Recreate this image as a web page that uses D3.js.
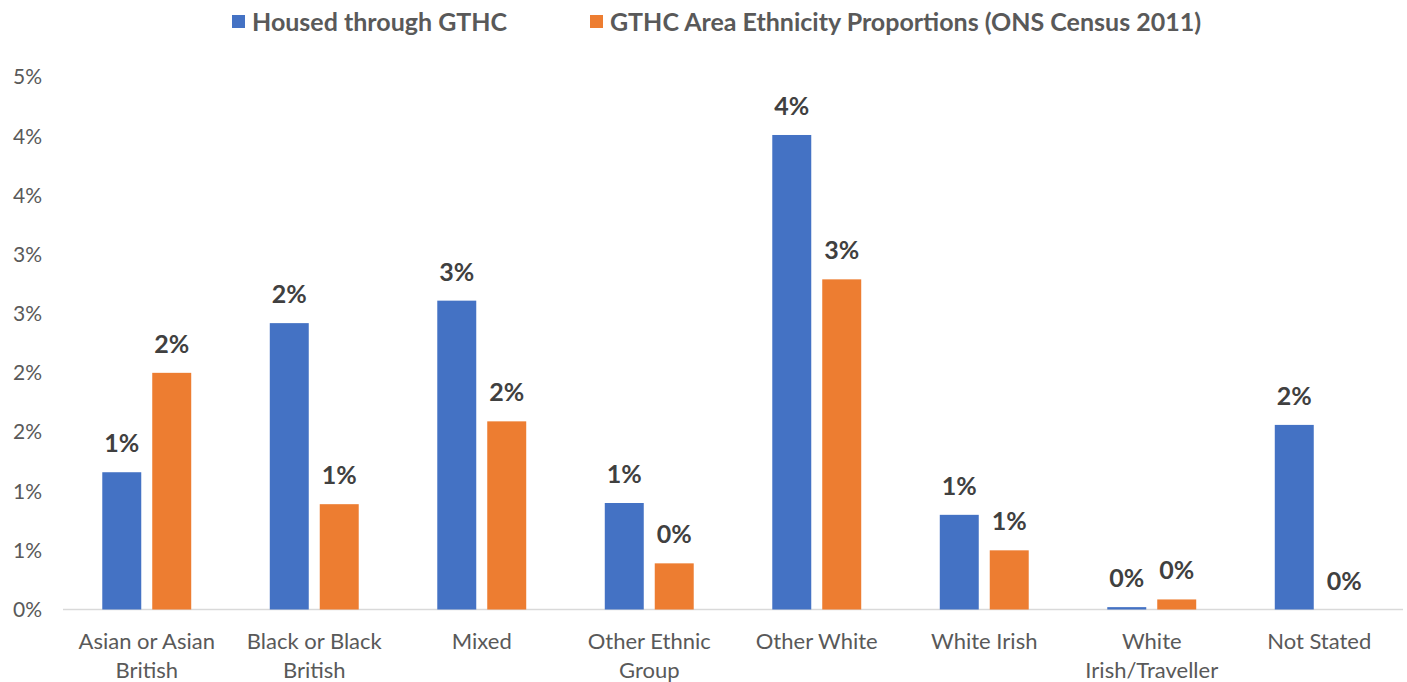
<!DOCTYPE html>
<html>
<head>
<meta charset="utf-8">
<script src="https://cdn.jsdelivr.net/npm/d3@7"></script>
<style>
  body { margin: 0; background: #fff; }
  text { font-family: Lato, 'Open Sans', sans-serif; }
</style>
</head>
<body>
<div id="chart"></div>
<script>
// categories, with "\n" where the axis label wraps
const categories = [
  'Asian or Asian\nBritish',
  'Black or Black\nBritish',
  'Mixed',
  'Other Ethnic\nGroup',
  'Other White',
  'White Irish',
  'White\nIrish/Traveller',
  'Not Stated'
];
// percent values
const housed = [1.16, 2.42, 2.61, 0.90, 4.01, 0.80, 0.02, 1.56];
const census = [2.00, 0.89, 1.59, 0.39, 2.79, 0.50, 0.085, 0];
const seriesNames = ['Housed through GTHC', 'GTHC Area Ethnicity Proportions (ONS Census 2011)'];
const seriesColors = ['#4472C4', '#ED7D31'];
const yTicks = [0, 0.5, 1, 1.5, 2, 2.5, 3, 3.5, 4, 4.5];

const width = 1407, height = 682;
const margin = { top: 77, right: 4, bottom: 72, left: 63 };

const svg = d3.select('#chart').append('svg')
  .attr('width', width)
  .attr('height', height);

const x0 = d3.scaleBand()
  .domain(categories)
  .range([margin.left, width - margin.right])
  .paddingInner(0.469)
  .paddingOuter(0.2345);

const x1 = d3.scaleBand()
  .domain([0, 1])
  .range([0, x0.bandwidth()])
  .paddingInner(0.22);

const y = d3.scaleLinear()
  .domain([0, 4.5])
  .range([height - margin.bottom - 0.5, margin.top]);

const fmt = v => Math.round(v) + '%';

// y tick labels (no gridlines in the original)
svg.append('g')
  .selectAll('text')
  .data(yTicks)
  .join('text')
  .attr('x', 42)
  .attr('y', d => y(d))
  .attr('dy', '0.35em')
  .attr('text-anchor', 'end')
  .attr('font-size', 21)
  .attr('fill', '#595959')
  .text(fmt);

// baseline
svg.append('line')
  .attr('x1', margin.left)
  .attr('x2', width - margin.right)
  .attr('y1', y(0))
  .attr('y2', y(0))
  .attr('stroke', '#D9D9D9')
  .attr('stroke-width', 1.5);

const rows = categories.map((c, i) => ({ cat: c, vals: [housed[i], census[i]] }));

const groups = svg.append('g')
  .selectAll('g')
  .data(rows)
  .join('g')
  .attr('transform', d => `translate(${x0(d.cat)},0)`);

const cells = groups.selectAll('g')
  .data(d => d.vals.map((v, k) => ({ k, v })))
  .join('g');

cells.append('rect')
  .attr('x', d => x1(d.k))
  .attr('width', x1.bandwidth())
  .attr('y', d => y(d.v))
  .attr('height', d => y(0) - y(d.v))
  .attr('fill', d => seriesColors[d.k]);

// data labels
cells.append('text')
  .attr('x', d => x1(d.k) + x1.bandwidth() / 2)
  .attr('y', d => y(d.v) - 20)
  .attr('text-anchor', 'middle')
  .attr('font-size', 25)
  .attr('font-weight', 'bold')
  .attr('fill', '#404040')
  .text(d => fmt(d.v));

// category labels
const xl = svg.append('g')
  .selectAll('text')
  .data(categories)
  .join('text')
  .attr('x', d => x0(d) + x0.bandwidth() / 2)
  .attr('y', y(0) + 39)
  .attr('text-anchor', 'middle')
  .attr('font-size', 22)
  .attr('fill', '#595959');

xl.selectAll('tspan')
  .data(d => d.split('\n'))
  .join('tspan')
  .attr('x', function() { return d3.select(this.parentNode).attr('x'); })
  .attr('dy', (d, i) => i === 0 ? 0 : 29)
  .text(d => d);

// legend
const legendX = [232, 590];
const legend = svg.append('g')
  .selectAll('g')
  .data(seriesNames)
  .join('g')
  .attr('transform', (d, i) => `translate(${legendX[i]},22)`);

legend.append('rect')
  .attr('x', 0)
  .attr('y', -7)
  .attr('width', 13)
  .attr('height', 13)
  .attr('fill', (d, i) => seriesColors[i]);

legend.append('text')
  .attr('x', 20)
  .attr('y', 0)
  .attr('dy', '0.35em')
  .attr('font-size', 25)
  .attr('font-weight', 'bold')
  .attr('fill', '#595959')
  .text(d => d);
</script>
</body>
</html>
